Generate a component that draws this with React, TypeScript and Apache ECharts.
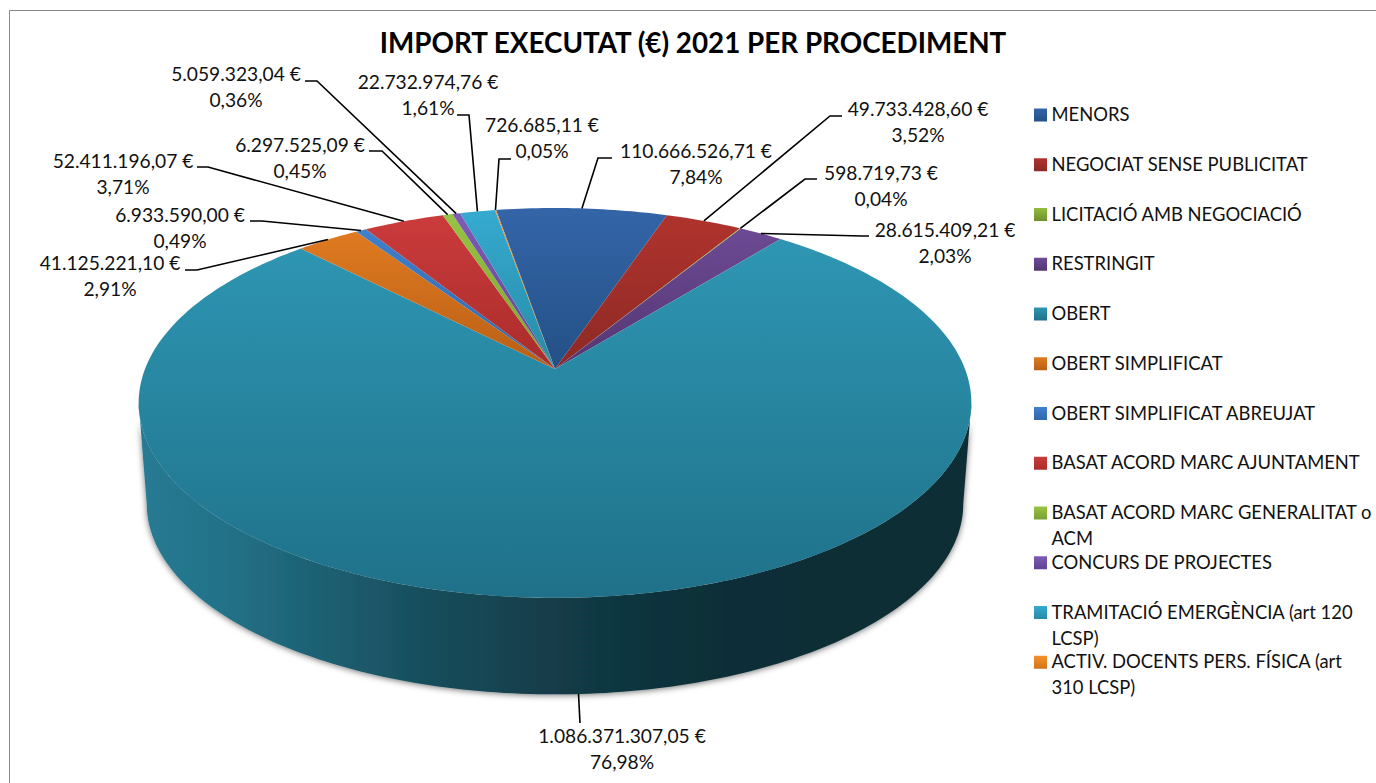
import React, { useEffect, useRef } from "react";
import * as echarts from "echarts";

const categories = [
  "MENORS",
  "NEGOCIAT SENSE PUBLICITAT",
  "LICITACIÓ AMB NEGOCIACIÓ",
  "RESTRINGIT",
  "OBERT",
  "OBERT SIMPLIFICAT",
  "OBERT SIMPLIFICAT ABREUJAT",
  "BASAT ACORD MARC AJUNTAMENT",
  "BASAT ACORD MARC GENERALITAT o\nACM",
  "CONCURS DE PROJECTES",
  "TRAMITACIÓ EMERGÈNCIA (art 120\nLCSP)",
  "ACTIV. DOCENTS PERS. FÍSICA (art\n310 LCSP)",
];
const values = [
  110666526.71, 49733428.6, 598719.73, 28615409.21, 1086371307.05, 41125221.1,
  6933590.0, 52411196.07, 6297525.09, 5059323.04, 22732974.76, 726685.11,
];
const colors: [string, string][] = [
  ["#3465A8", "#235085"],
  ["#B0332D", "#8C2925"],
  ["#93BE3E", "#6F8E2B"],
  ["#6C4A94", "#543672"],
  ["#2E96B3", "#1F7189"],
  ["#DF7A21", "#B95F15"],
  ["#3F80CC", "#2F68AB"],
  ["#CB3B3C", "#A92C2A"],
  ["#97C443", "#7AA035"],
  ["#7F5BB5", "#5F4391"],
  ["#36AAD0", "#268BA6"],
  ["#F6902E", "#D07516"],
];

// Label layout (page pixels): label centre and leader elbow/end.
const labelCenters: [number, number][] = [
  [696, 163], [918, 121], [881, 185], [945, 242], [622, 748], [110, 275],
  [180, 227], [123, 173], [300, 157], [236, 86], [428, 94], [542, 137],
];
const leaderEnds: [number, number][][] = [
  [[598, 158], [612, 158]],
  [[830, 116], [842, 116]],
  [[805, 179], [817, 179]],
  [[862, 236], [869, 236]],
  [[580, 723]],
  [[197, 270], [185, 270]],
  [[262, 221], [250, 221]],
  [[208, 167], [197, 167]],
  [[382, 151], [369, 151]],
  [[317, 81], [305, 81]],
  [[469, 115], [457, 115]],
  [[499, 159], [511, 159]],
];

// 3D pie projection
const FONT = "Lato";
const START = -9.7;
const K = 0.174;
const FRONT_FROM = 100;
const FRONT_TO = 260;
const top = { x: 555, y: 369, a: 189, b: 410 };
const base = { x: 555, y: 471, a: 184.5, b: 402 };
const total = values.reduce((s, v) => s + v, 0);
const starts: number[] = [];
values.reduce((acc, v, i) => {
  starts[i] = acc;
  return acc + (v / total) * 360;
}, START);

type P = { x: number; y: number; a: number; b: number };
const project = (p: P, deg: number): [number, number] => {
  const t = (deg * Math.PI) / 180;
  const u = Math.sin(t);
  const v = -Math.cos(t);
  const d = 1 - K * v;
  return [p.x + (p.b * u) / d, p.y + (p.a * v) / d];
};
const arc = (p: P, from: number, to: number) => {
  const n = Math.max(2, Math.ceil(Math.abs(to - from)));
  const pts: [number, number][] = [];
  for (let i = 0; i <= n; i++) pts.push(project(p, from + ((to - from) * i) / n));
  return pts;
};
const hexMul = (hex: string, f: number) => {
  const n = parseInt(hex.slice(1), 16);
  const c = [(n >> 16) & 255, (n >> 8) & 255, n & 255].map((x) => Math.round(x * f));
  return `rgb(${c[0]},${c[1]},${c[2]})`;
};
const vGrad = (c: [string, string]) =>
  new echarts.graphic.LinearGradient(0, 0, 0, 1, [
    { offset: 0, color: c[0] },
    { offset: 1, color: c[1] },
  ]);
const wallShades: [number, number][] = [
  [0, 0.82], [0.1, 0.76], [0.2, 0.66], [0.34, 0.52], [0.5, 0.4], [0.66, 0.32], [0.8, 0.3], [1, 0.3],
];
const wallGrad = (c: [string, string]) =>
  new echarts.graphic.LinearGradient(
    0, 0, 1, 0,
    wallShades.map(([offset, f]) => ({ offset, color: hexMul(c[0], f) }))
  );
const money = (v: number) => {
  const [i, d] = v.toFixed(2).split(".");
  return `${i.replace(/\B(?=(\d{3})+$)/g, ".")},${d} €`;
};
const pct = (v: number) => `${((v / total) * 100).toFixed(2).replace(".", ",")}%`;
const sliceData = values.map((v, i) => ({ name: categories[i], value: v }));
const sweep = (api: any) => (api.value(0) / total) * 360;

export default function App() {
  const ref = useRef<HTMLDivElement>(null);
  useEffect(() => {
    document.body.style.margin = "0";
    const chart = echarts.init(ref.current!, undefined, { renderer: "svg" });
    chart.setOption({
      animation: false,
      backgroundColor: "#ffffff",
      title: {
        text: "IMPORT EXECUTAT (€) 2021 PER PROCEDIMENT",
        left: 688,
        top: 23,
        textAlign: "center",
        textStyle: { fontFamily: FONT, fontSize: 27.8, fontWeight: "bold", color: "#000" },
      },
      graphic: [
        {
          type: "rect",
          z: 0,
          silent: true,
          shape: { x: 9.5, y: 10.5, width: 1500, height: 900 },
          style: { fill: "none", stroke: "#868686", lineWidth: 1 },
        },
      ],
      series: [
        {
          type: "custom",
          name: "wall",
          coordinateSystem: "none",
          z: 1,
          data: sliceData,
          renderItem: (params: any, api: any) => {
            const i = params.dataIndex;
            const s = Math.max(starts[i], FRONT_FROM);
            const e = Math.min(starts[i] + sweep(api), FRONT_TO);
            if (e <= s) return null;
            const pts = [...arc(top, s, e), ...arc(base, e, s)];
            return {
              type: "polygon",
              shape: { points: pts },
              style: {
                fill: wallGrad(colors[i]),
                shadowColor: "rgba(0,0,0,0.55)",
                shadowBlur: 6,
                shadowOffsetY: 1,
              },
            };
          },
        },
        {
          type: "custom",
          name: "top",
          coordinateSystem: "none",
          z: 2,
          data: sliceData,
          renderItem: (params: any, api: any) => {
            const i = params.dataIndex;
            const s = starts[i];
            const e = s + sweep(api);
            return {
              type: "polygon",
              shape: { points: [[top.x, top.y], ...arc(top, s, e)] },
              style: { fill: vGrad(colors[i]) },
            };
          },
        },
        {
          type: "custom",
          name: "labels",
          coordinateSystem: "none",
          z: 3,
          data: sliceData,
          renderItem: (params: any, api: any) => {
            const i = params.dataIndex;
            const mid = starts[i] + sweep(api) / 2;
            const front = Math.abs(((mid + 540) % 360) - 180) > 90;
            const anchor = project(front ? base : top, mid);
            const [cx, cy] = labelCenters[i];
            return {
              type: "group",
              children: [
                {
                  type: "polyline",
                  shape: { points: [anchor, ...leaderEnds[i]] },
                  style: { stroke: "#000", lineWidth: 1.6, fill: "none" },
                },
                {
                  type: "text",
                  style: {
                    text: `${money(api.value(0))}\n${pct(api.value(0))}`,
                    x: cx,
                    y: cy,
                    align: "center",
                    verticalAlign: "middle",
                    fontFamily: FONT,
                    fontSize: 19.2,
                    lineHeight: 26,
                    fill: "#111",
                  },
                },
              ],
            };
          },
        },
        {
          type: "custom",
          name: "legend",
          coordinateSystem: "none",
          z: 3,
          data: sliceData,
          renderItem: (params: any) => {
            const i = params.dataIndex;
            const y = 114.5 + i * 49.75;
            return {
              type: "group",
              children: [
                {
                  type: "rect",
                  shape: { x: 1034, y: y - 6, width: 13, height: 13 },
                  style: { fill: vGrad(colors[i]) },
                },
                {
                  type: "text",
                  style: {
                    text: categories[i],
                    x: 1051.5,
                    y: y - 13.5,
                    align: "left",
                    verticalAlign: "top",
                    fontFamily: FONT,
                    fontSize: 18.4,
                    lineHeight: 26,
                    fill: "#111",
                  },
                },
              ],
            };
          },
        },
      ],
    });
    return () => chart.dispose();
  }, []);
  return <div ref={ref} style={{ position: "fixed", left: 0, top: 0, width: 1376, height: 783 }} />;
}
